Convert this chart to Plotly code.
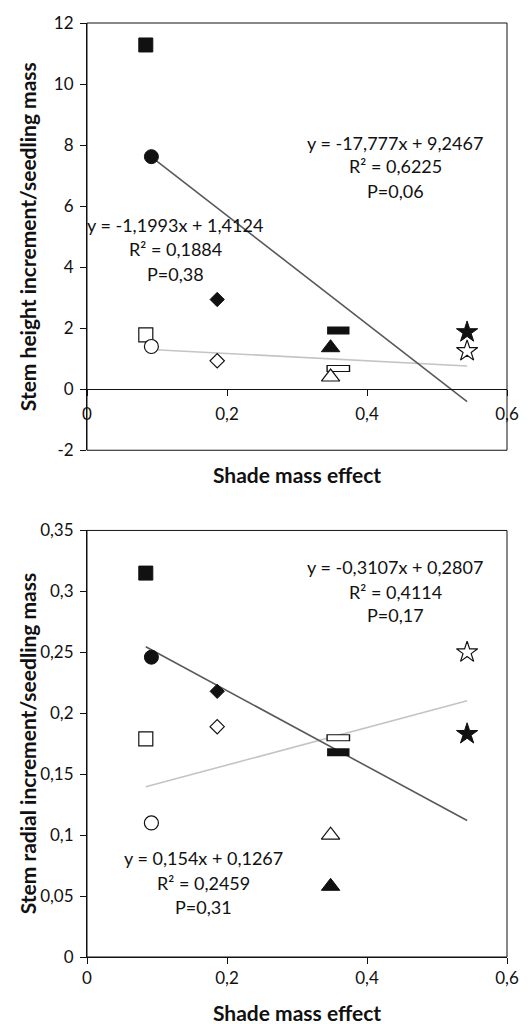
import plotly.graph_objects as go

# ---------------- data ----------------
symbols = ["square", "circle", "diamond", "rect", "triangle-up", "star"]
shade_effect = [0.084, 0.092, 0.186, 0.359, 0.348, 0.543]

height_filled = [11.28, 7.62, 2.94, 1.92, 1.36, 1.87]
height_open = [1.78, 1.40, 0.93, 0.68, 0.40, 1.25]

radial_filled = [0.315, 0.246, 0.218, 0.168, 0.058, 0.183]
radial_open = [0.179, 0.110, 0.189, 0.180, 0.100, 0.250]

# regression: slope, intercept, equation text, R2 text, P text
reg_height_filled = [-17.777, 9.2467, "y = -17,777x + 9,2467", "R² = 0,6225", "P=0,06"]
reg_height_open = [-1.1993, 1.4124, "y = -1,1993x + 1,4124", "R² = 0,1884", "P=0,38"]
reg_radial_filled = [-0.3107, 0.2807, "y = -0,3107x + 0,2807", "R² = 0,4114", "P=0,17"]
reg_radial_open = [0.154, 0.1267, "y = 0,154x + 0,1267", "R² = 0,2459", "P=0,31"]

x_ticks = [0, 0.2, 0.4, 0.6]
x_ticktext = ["0", "0,2", "0,4", "0,6"]
height_ticks = [-2, 0, 2, 4, 6, 8, 10, 12]
height_ticktext = ["-2", "0", "2", "4", "6", "8", "10", "12"]
radial_ticks = [0, 0.05, 0.1, 0.15, 0.2, 0.25, 0.3, 0.35]
radial_ticktext = ["0", "0,05", "0,1", "0,15", "0,2", "0,25", "0,3", "0,35"]

# ---------------- style ----------------
FONT = "Lato"
TICK_SIZE = 17
ANN_SIZE = 18
TITLE_SIZE = 21
BLACK = "#111111"
DARK_LINE = "#595959"
LIGHT_LINE = "#c4c4c4"
msize = {"square": 14, "circle": 14, "diamond": 11, "triangle-up": 16, "star": 16}

fig = go.Figure()


def add_panel(xa, ya, filled, opened, reg_f, reg_o):
    xs = shade_effect
    x0, x1 = min(xs), max(xs)
    # trend lines
    fig.add_trace(go.Scatter(x=[x0, x1], y=[reg_o[0] * x0 + reg_o[1], reg_o[0] * x1 + reg_o[1]],
                             mode="lines", line=dict(color=LIGHT_LINE, width=1.6),
                             xaxis=xa, yaxis=ya, showlegend=False, hoverinfo="skip"))
    fig.add_trace(go.Scatter(x=[x0, x1], y=[reg_f[0] * x0 + reg_f[1], reg_f[0] * x1 + reg_f[1]],
                             mode="lines", line=dict(color=DARK_LINE, width=1.6),
                             xaxis=xa, yaxis=ya, showlegend=False, hoverinfo="skip"))
    for i, s in enumerate(symbols):
        if s == "rect":
            # filled rectangle
            fig.add_trace(go.Scatter(x=[xs[i]], y=[filled[i]], mode="markers",
                                     marker=dict(symbol="line-ew", size=16,
                                                 line=dict(color=BLACK, width=8)),
                                     xaxis=xa, yaxis=ya, showlegend=False))
            # open rectangle (outline + white inside)
            fig.add_trace(go.Scatter(x=[xs[i]], y=[opened[i]], mode="markers",
                                     marker=dict(symbol="line-ew", size=17,
                                                 line=dict(color=BLACK, width=7)),
                                     xaxis=xa, yaxis=ya, showlegend=False))
            fig.add_trace(go.Scatter(x=[xs[i]], y=[opened[i]], mode="markers",
                                     marker=dict(symbol="line-ew", size=15,
                                                 line=dict(color="white", width=5)),
                                     xaxis=xa, yaxis=ya, showlegend=False))
        else:
            fig.add_trace(go.Scatter(x=[xs[i]], y=[filled[i]], mode="markers",
                                     marker=dict(symbol=s, size=msize[s], color=BLACK,
                                                 line=dict(color=BLACK, width=1)),
                                     xaxis=xa, yaxis=ya, showlegend=False))
            fig.add_trace(go.Scatter(x=[xs[i]], y=[opened[i]], mode="markers",
                                     marker=dict(symbol=s, size=msize[s], color="white",
                                                 line=dict(color=BLACK, width=1.2)),
                                     xaxis=xa, yaxis=ya, showlegend=False))


add_panel("x", "y", height_filled, height_open, reg_height_filled, reg_height_open)
add_panel("x2", "y2", radial_filled, radial_open, reg_radial_filled, reg_radial_open)

# ---------------- layout ----------------
T, B = 17, 67
PH = 1024 - T - B
top_dom = [(1024 - B - 447) / PH, 1.0]
bot_dom = [0.0, (1024 - B - 527.7) / PH]
zero_pos = top_dom[0] + (top_dom[1] - top_dom[0]) * (2 / 14)

tickfont = dict(family=FONT, size=TICK_SIZE, color=BLACK)
common_x = dict(range=[0, 0.6], showgrid=False, zeroline=False, showline=True,
                linecolor=BLACK, linewidth=1, ticks="outside", ticklen=6, tickwidth=1,
                tickcolor=BLACK, tickvals=x_ticks, ticktext=x_ticktext, tickfont=tickfont,
                domain=[0, 1], fixedrange=True)
common_y = dict(showgrid=False, zeroline=False, showline=True, linecolor=BLACK, linewidth=1,
                ticks="outside", ticklen=6, tickwidth=1, tickcolor=BLACK, tickfont=tickfont,
                fixedrange=True, ticklabelstandoff=3)

fig.update_layout(
    width=531, height=1024,
    margin=dict(l=87, r=24, t=T, b=B),
    paper_bgcolor="white", plot_bgcolor="white",
    showlegend=False,
    xaxis=dict(**common_x, anchor="free", position=zero_pos, ticklabelstandoff=3),
    yaxis=dict(**common_y, domain=top_dom, range=[-2, 12], tickvals=height_ticks,
               ticktext=height_ticktext, anchor="x"),
    xaxis2=dict(**common_x, anchor="y2", ticklabelstandoff=0),
    yaxis2=dict(**common_y, domain=bot_dom, range=[0, 0.35], tickvals=radial_ticks,
                ticktext=radial_ticktext, anchor="x2"),
)

# frames
for xr, yr in [("x", "y"), ("x2", "y2")]:
    fig.add_shape(type="rect", xref=f"{xr} domain", yref=f"{yr} domain",
                  x0=0, x1=1, y0=0, y1=1, line=dict(color=BLACK, width=1), layer="above")

annfont = dict(family=FONT, size=ANN_SIZE, color=BLACK)


def add_reg_text(reg, xa, ya, x, ys):
    for txt, yy in zip(reg[2:], ys):
        fig.add_annotation(text=txt, x=x, y=yy, xref=xa, yref=ya, showarrow=False,
                           font=annfont, xanchor="center", yanchor="middle")


add_reg_text(reg_height_filled, "x", "y", 0.44, [8.07, 7.30, 6.50])
add_reg_text(reg_height_open, "x", "y", 0.1264, [5.37, 4.58, 3.77])
add_reg_text(reg_radial_filled, "x2", "y2", 0.44, [0.3197, 0.2999, 0.2804])
add_reg_text(reg_radial_open, "x2", "y2", 0.167, [0.0815, 0.0608, 0.0412])

titlefont = dict(family=FONT, size=TITLE_SIZE, color=BLACK)
x_title_y = [(1024 - B - 471.7) / PH, (1024 - B - 1013) / PH]
for yy in x_title_y:
    fig.add_annotation(text="<b>Shade mass effect</b>", x=0.5, y=yy, xref="paper", yref="paper",
                       showarrow=False, font=titlefont, xanchor="center", yanchor="middle")

ylab_x = (27.5 - 87) / 420
fig.add_annotation(text="<b>Stem height increment/seedling mass</b>", x=ylab_x,
                   y=(top_dom[0] + top_dom[1]) / 2, xref="paper", yref="paper",
                   textangle=-90, showarrow=False, font=titlefont,
                   xanchor="center", yanchor="middle")
fig.add_annotation(text="<b>Stem radial increment/seedling mass</b>", x=ylab_x,
                   y=(bot_dom[0] + bot_dom[1]) / 2, xref="paper", yref="paper",
                   textangle=-90, showarrow=False, font=titlefont,
                   xanchor="center", yanchor="middle")

fig.write_html("out.html")
